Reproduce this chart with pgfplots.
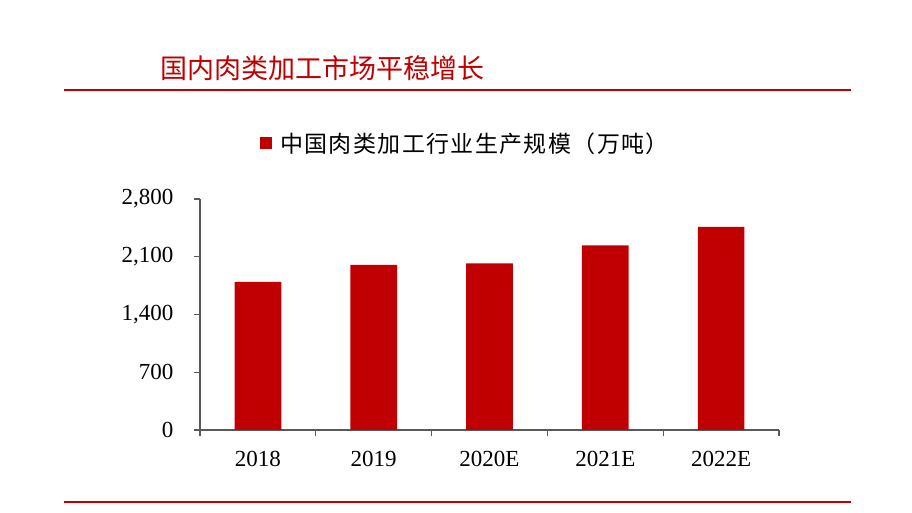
\documentclass[border=0pt]{standalone}
\usepackage{fontspec}
\setmainfont{Liberation Serif}
\newfontfamily\cjk{Noto Sans CJK SC}
\newfontfamily\cjkwide[LetterSpace=6]{Noto Sans CJK SC}
\usepackage{pgfplots}
\pgfplotsset{compat=1.18}
\definecolor{barred}{RGB}{192,0,0}
\definecolor{axgray}{RGB}{89,89,89}

\pgfplotstableread{
x val
0 1794
1 2000
2 2020
3 2238
4 2461
}\meatdata

\begin{document}
\begin{tikzpicture}[x=1pt,y=1pt]
\path (0,0) rectangle (912,513);
% header and footer rules
\draw[barred, line width=1.6pt] (64,423) -- (851,423);
\draw[barred, line width=1.6pt] (64,11) -- (851,11);
\node[anchor=west, inner sep=0pt, text=barred, font=\cjk\fontsize{27}{30}\selectfont] at (160,445) {国内肉类加工市场平稳增长};

\begin{axis}[
  at={(200pt,83pt)}, anchor=south west,
  scale only axis,
  width=579pt, height=231pt,
  xmin=-0.5, xmax=4.5, ymin=0, ymax=2800,
  axis x line*=bottom, axis y line*=left,
  axis line style={axgray, line width=1.2pt},
  every tick/.style={axgray, line width=1.2pt},
  tick align=outside,
  major tick length=6pt,
  xtick={-0.5,0.5,1.5,2.5,3.5,4.5},
  xticklabels={},
  extra x ticks={0,1,2,3,4},
  extra x tick labels={2018,2019,2020E,2021E,2022E},
  extra x tick style={major tick length=0pt},
  ytick={0,700,1400,2100,2800},
  ticklabel style={font=\fontsize{23}{26}\selectfont, text=black},
  xticklabel style={yshift=-18pt},
  yticklabel style={xshift=-17pt},
  /pgf/number format/.cd, 1000 sep={,}, assume math mode=true,
  /pgfplots/.cd,
  legend style={at={(0.1036,1.242)}, anchor=west, draw=none, fill=none,
    inner sep=0pt, column sep=8pt,
    nodes={inner sep=0pt, font=\cjkwide\fontsize{23}{26}\selectfont}},
  legend image code/.code={\fill[barred] (0pt,-6pt) rectangle (12pt,6pt);},
]
\addplot[ybar, bar width=46.7pt, fill=barred, draw=none] table[x=x, y=val] {\meatdata};
\addlegendentry{中国肉类加工行业生产规模（万吨）}
\end{axis}
\end{tikzpicture}
\end{document}
